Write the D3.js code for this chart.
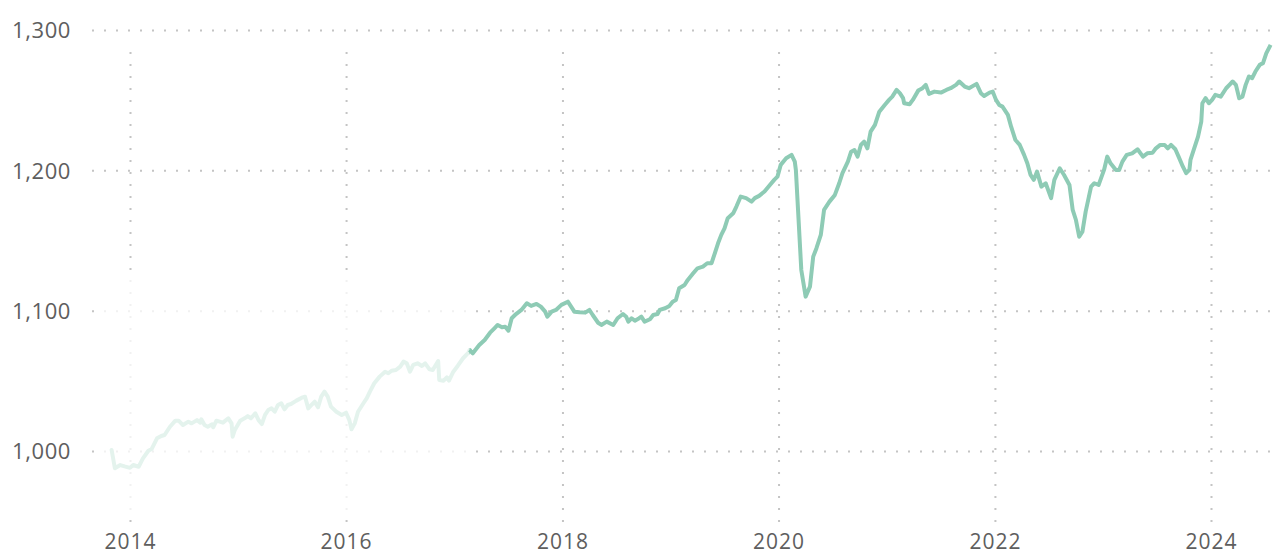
<!DOCTYPE html>
<html><head><meta charset="utf-8">
<script src="https://cdn.jsdelivr.net/npm/d3@7"></script>
<style>
html,body{margin:0;padding:0;background:#fff;}
svg{display:block;}
text{font-family:"Open Sans","Noto Sans",sans-serif;}
</style></head>
<body>
<svg id="chart" width="1275" height="555"></svg>
<script>
// ---- data (decimal years, index values) ----
const earlyYears = [2013.83,2013.86,2013.91,2013.95,2014.00,2014.03,2014.08,2014.12,2014.17,2014.20,2014.25,2014.29,2014.32,2014.37,2014.42,2014.45,2014.49,2014.54,2014.57,2014.62,2014.65,2014.66,2014.69,2014.72,2014.76,2014.77,2014.80,2014.83,2014.86,2014.91,2014.94,2014.95,2014.97,2015.02,2015.06,2015.09,2015.12,2015.16,2015.19,2015.22,2015.25,2015.28,2015.31,2015.34,2015.37,2015.40,2015.43,2015.46,2015.49,2015.54,2015.59,2015.62,2015.65,2015.68,2015.71,2015.74,2015.77,2015.80,2015.83,2015.86,2015.91,2015.96,2016.00,2016.03,2016.05,2016.08,2016.11,2016.16,2016.19,2016.22,2016.26,2016.31,2016.36,2016.39,2016.42,2016.46,2016.50,2016.53,2016.56,2016.59,2016.62,2016.66,2016.70,2016.73,2016.77,2016.80,2016.85,2016.86,2016.90,2016.93,2016.95,2016.99,2017.03,2017.08,2017.13,2017.14];
const earlyValues = [1000.7,987.7,990,989,988,990,988.8,994.8,1000.2,1001.4,1009,1010.7,1011.4,1017.3,1021.6,1021.6,1018.5,1020.9,1019.7,1022,1020.2,1022.6,1018.5,1017.3,1019,1016.9,1021.6,1020.9,1020.2,1023.3,1019.7,1010.2,1015,1021.6,1023.3,1024.9,1023.3,1026.9,1022,1019.2,1025.7,1029.2,1030.4,1028,1032.8,1034,1029.7,1032.8,1033.5,1035.9,1038,1038.7,1030.4,1032.8,1035.1,1031.1,1038.7,1042.3,1038.7,1031.6,1028,1025.7,1027.3,1022,1015.5,1019.7,1028,1034,1037.5,1042.3,1048.3,1053,1056.5,1055.4,1057.2,1057.7,1060.1,1063.7,1062.5,1056.5,1061.3,1062.5,1060.6,1062.5,1058.2,1057.7,1064.1,1050.6,1050.1,1052.5,1050.1,1056.5,1060.6,1066.1,1070.1,1072];
const recentYears = [2017.14,2017.17,2017.23,2017.28,2017.33,2017.37,2017.40,2017.44,2017.47,2017.50,2017.53,2017.57,2017.62,2017.67,2017.71,2017.76,2017.80,2017.84,2017.86,2017.90,2017.94,2017.99,2018.05,2018.08,2018.11,2018.16,2018.21,2018.25,2018.28,2018.33,2018.36,2018.41,2018.47,2018.51,2018.56,2018.59,2018.61,2018.64,2018.67,2018.71,2018.73,2018.76,2018.81,2018.84,2018.88,2018.90,2018.95,2018.99,2019.02,2019.05,2019.08,2019.13,2019.16,2019.21,2019.25,2019.30,2019.34,2019.38,2019.41,2019.44,2019.47,2019.50,2019.53,2019.58,2019.61,2019.65,2019.70,2019.75,2019.78,2019.82,2019.87,2019.92,2019.96,2019.99,2020.02,2020.07,2020.12,2020.15,2020.16,2020.18,2020.21,2020.24,2020.25,2020.29,2020.32,2020.35,2020.39,2020.42,2020.47,2020.52,2020.56,2020.59,2020.64,2020.67,2020.70,2020.73,2020.76,2020.79,2020.82,2020.85,2020.89,2020.93,2020.98,2021.02,2021.05,2021.09,2021.12,2021.15,2021.16,2021.21,2021.24,2021.29,2021.33,2021.36,2021.39,2021.44,2021.50,2021.55,2021.59,2021.64,2021.67,2021.72,2021.76,2021.83,2021.87,2021.90,2021.95,2021.98,2022.01,2022.04,2022.07,2022.12,2022.15,2022.19,2022.23,2022.27,2022.30,2022.33,2022.36,2022.39,2022.43,2022.47,2022.52,2022.55,2022.60,2022.64,2022.69,2022.72,2022.75,2022.78,2022.81,2022.84,2022.87,2022.89,2022.92,2022.96,2023.01,2023.04,2023.07,2023.12,2023.15,2023.18,2023.22,2023.27,2023.32,2023.37,2023.41,2023.46,2023.49,2023.53,2023.57,2023.60,2023.63,2023.67,2023.70,2023.74,2023.77,2023.80,2023.81,2023.84,2023.88,2023.91,2023.92,2023.95,2023.98,2024.01,2024.04,2024.09,2024.14,2024.17,2024.20,2024.23,2024.26,2024.29,2024.32,2024.35,2024.38,2024.41,2024.45,2024.48,2024.51,2024.55];
const recentValues = [1072,1069.6,1075.5,1079.1,1084.3,1087.4,1089.8,1088.2,1088.6,1085.7,1094.6,1097.6,1100.5,1105.3,1103.4,1104.8,1102.9,1099.3,1095.7,1099.3,1100.5,1104.1,1106.4,1102.9,1099.3,1098.9,1098.6,1100.5,1096.9,1091.4,1089.8,1092.2,1089.8,1094.6,1097.6,1095.7,1092.2,1094.6,1092.9,1094.6,1095.7,1092.2,1093.9,1096.9,1097.6,1100.5,1101.7,1103.4,1106.4,1107.6,1116,1118.3,1121.9,1126.6,1130.2,1131.4,1133.8,1133.8,1140.9,1148,1154,1158.7,1165.9,1169.4,1174.2,1181.3,1180.2,1177.7,1180.2,1181.8,1184.9,1189.6,1193.2,1195.5,1203.9,1208.6,1211,1206.2,1200.3,1171.8,1129,1114.8,1110,1117.1,1138.5,1144.5,1154,1171.8,1177.7,1182.5,1190.8,1198,1206.2,1213.3,1214.5,1209.8,1218.1,1220.5,1215.7,1227.6,1232.4,1241.8,1246.6,1250.2,1252.5,1257.3,1255,1251.4,1247.8,1247.1,1250.2,1256.8,1258.5,1260.9,1254.5,1256.1,1255.4,1257.3,1258.5,1260.9,1263.3,1259.7,1258.5,1261.6,1255,1253,1255.4,1256.1,1250.2,1246.6,1245.4,1239.5,1231.1,1221.6,1218.1,1211,1205,1196.7,1193.2,1199.1,1188.4,1190.8,1180.2,1193.2,1201.5,1196.7,1189.6,1171.8,1164.6,1152.7,1156.3,1170.6,1181.3,1188.4,1190.8,1189.6,1200.3,1209.8,1205,1200.3,1200.3,1206.2,1211,1212.1,1215,1209.8,1212.1,1212.6,1215.7,1218.1,1218.1,1215.7,1218.1,1215,1209.8,1202.6,1198,1200.3,1207.4,1214.5,1224,1234.7,1247.8,1251.4,1247.8,1250.2,1253.8,1252.5,1258.5,1260.9,1263.3,1260.9,1251.4,1252.5,1260.9,1266.9,1265.7,1270.4,1275.2,1276.4,1283.4,1289.4];
const yTicks = [1000, 1100, 1200, 1300];
const xTickYears = [2014, 2016, 2018, 2020, 2022, 2024];

// ---- helpers ----
function toDate(y){
  const yr = Math.floor(y);
  const s = new Date(yr,0,1), e = new Date(yr+1,0,1);
  return new Date(+s + (y-yr)*(e-s));
}
const early = earlyYears.map((y,i)=>({d:toDate(y), v:earlyValues[i]}));
const recent = recentYears.map((y,i)=>({d:toDate(y), v:recentValues[i]}));

const svg = d3.select("#chart");
const x = d3.scaleTime().domain([new Date(2014,0,1), new Date(2024,0,1)]).range([130, 1211]);
const y = d3.scaleLinear().domain([1000, 1300]).range([451, 30]);

const gridColor = "#c4c4c4";
const textColor = "#5e5e5e";
// horizontal gridlines
const yAxis = d3.axisLeft(y).tickValues(yTicks).tickFormat(d3.format(",")).tickSize(-(1275-92));
const gy = svg.append("g").attr("transform","translate(92,0)").call(yAxis);
gy.select(".domain").remove();
gy.selectAll(".tick line").attr("stroke",gridColor).attr("stroke-width",2).attr("stroke-dasharray","2,10");
gy.selectAll(".tick text").attr("fill",textColor).attr("font-size",22).attr("letter-spacing","0.6px")
  .attr("x",-21).attr("dy","0.36em");

// vertical gridlines
const xAxis = d3.axisBottom(x).tickValues(xTickYears.map(v=>new Date(v,0,1))).tickFormat(d3.timeFormat("%Y")).tickSize(-(522-42));
const gx = svg.append("g").attr("transform","translate(0,522)").call(xAxis);
gx.select(".domain").remove();
gx.selectAll(".tick line").attr("stroke",gridColor).attr("stroke-width",2).attr("stroke-dasharray","2,10");
gx.selectAll(".tick text").attr("fill",textColor).attr("font-size",21).attr("letter-spacing","1px")
  .attr("y",27).attr("dy",0);

const lineColor = "#8ecbb5";
const line = d3.line().x(d=>x(d.d)).y(d=>y(d.v)).curve(d3.curveLinear);
svg.append("path").datum(early).attr("d",line).attr("fill","none").attr("stroke",lineColor).attr("stroke-width",4).attr("stroke-linejoin","round").attr("stroke-linecap","round");

// fade overlay over the early period
const x0 = 98, x1 = x(toDate(earlyYears[earlyYears.length-1]));
svg.append("rect").attr("x",x0).attr("y",280).attr("width",x1-x0).attr("height",515-280).attr("fill","#fff").attr("opacity",0.76);

svg.append("path").datum(recent).attr("d",line).attr("fill","none").attr("stroke",lineColor).attr("stroke-width",4).attr("stroke-linejoin","round").attr("stroke-linecap","butt");
</script>
</body></html>
